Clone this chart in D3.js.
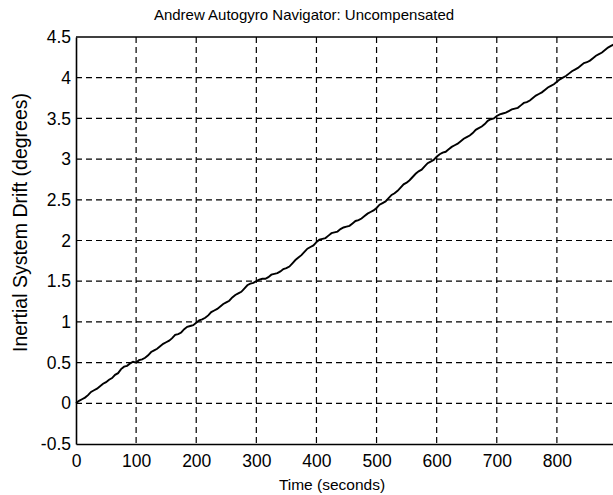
<!DOCTYPE html>
<html>
<head>
<meta charset="utf-8">
<script src="https://cdn.jsdelivr.net/npm/d3@7"></script>
<style>
  html, body { margin: 0; padding: 0; background: #fff; }
  svg { display: block; }
  text { font-family: "Liberation Sans", Arial, sans-serif; fill: #000; }
</style>
</head>
<body>
<script>
// Gyro drift record, one sample every 5 s from 0 to 900 s
const sampleStep = 5;
const driftDegrees = [
  0.00, 0.03, 0.05, 0.07, 0.10, 0.14, 0.16, 0.18, 0.21, 0.24,
  0.26, 0.29, 0.31, 0.35, 0.37, 0.42, 0.45, 0.46, 0.49, 0.51,
  0.50, 0.53, 0.54, 0.56, 0.59, 0.63, 0.65, 0.67, 0.70, 0.73,
  0.75, 0.77, 0.80, 0.84, 0.85, 0.87, 0.91, 0.94, 0.95, 0.96,
  0.99, 1.02, 1.03, 1.05, 1.08, 1.12, 1.14, 1.16, 1.19, 1.22,
  1.24, 1.26, 1.30, 1.33, 1.35, 1.37, 1.41, 1.45, 1.47, 1.48,
  1.50, 1.52, 1.53, 1.53, 1.55, 1.58, 1.59, 1.60, 1.62, 1.65,
  1.66, 1.68, 1.72, 1.76, 1.79, 1.82, 1.86, 1.90, 1.92, 1.94,
  1.98, 2.01, 2.02, 2.03, 2.06, 2.09, 2.10, 2.11, 2.14, 2.16,
  2.17, 2.18, 2.21, 2.24, 2.25, 2.27, 2.30, 2.33, 2.35, 2.37,
  2.40, 2.44, 2.46, 2.48, 2.52, 2.56, 2.58, 2.61, 2.65, 2.69,
  2.71, 2.74, 2.78, 2.82, 2.85, 2.87, 2.91, 2.95, 2.97, 2.99,
  3.03, 3.06, 3.08, 3.09, 3.12, 3.15, 3.17, 3.19, 3.22, 3.25,
  3.27, 3.29, 3.32, 3.36, 3.38, 3.40, 3.43, 3.47, 3.49, 3.50,
  3.53, 3.55, 3.56, 3.57, 3.59, 3.61, 3.62, 3.63, 3.66, 3.69,
  3.70, 3.72, 3.75, 3.78, 3.80, 3.82, 3.85, 3.88, 3.90, 3.92,
  3.95, 3.98, 4.00, 4.02, 4.05, 4.08, 4.10, 4.12, 4.15, 4.18,
  4.19, 4.21, 4.24, 4.27, 4.29, 4.31, 4.34, 4.37, 4.39, 4.41,
  4.44
];
const xTicks = [0, 100, 200, 300, 400, 500, 600, 700, 800];
const yTicks = [-0.5, 0, 0.5, 1, 1.5, 2, 2.5, 3, 3.5, 4, 4.5];
const xDomain = [0, 900];
const yDomain = [-0.5, 4.5];

const titleText = "Andrew Autogyro Navigator: Uncompensated";
const xLabelText = "Time (seconds)";
const yLabelText = "Inertial System Drift (degrees)";

const W = 613, H = 495;
const plot = { left: 76, right: 617, top: 37, bottom: 444 };

const svg = d3.select("body").append("svg")
  .attr("width", W).attr("height", H);

const x = d3.scaleLinear().domain(xDomain).range([plot.left, plot.right]);
const y = d3.scaleLinear().domain(yDomain).range([plot.bottom, plot.top]);

// dashed grid
const grid = svg.append("g").attr("stroke", "#000").attr("stroke-width", 1.2)
  .attr("stroke-dasharray", "6,4").attr("fill", "none");
grid.selectAll("line.v").data(xTicks.filter(d => d > xDomain[0])).join("line")
  .attr("class", "v")
  .attr("x1", d => x(d)).attr("x2", d => x(d))
  .attr("y1", plot.top).attr("y2", plot.bottom);
grid.selectAll("line.h").data(yTicks.filter(d => d > yDomain[0] && d < yDomain[1])).join("line")
  .attr("class", "h")
  .attr("x1", plot.left).attr("x2", plot.right)
  .attr("y1", d => y(d)).attr("y2", d => y(d));

// drift trace
const line = d3.line().x((d, i) => x(i * sampleStep)).y(d => y(d));
svg.append("path")
  .datum(driftDegrees)
  .attr("d", line)
  .attr("fill", "none")
  .attr("stroke", "#000")
  .attr("stroke-width", 1.9)
  .attr("stroke-linejoin", "miter");

// axes
const xAxis = d3.axisBottom(x).tickValues(xTicks).tickSize(0).tickPadding(11)
  .tickFormat(d3.format("d"));
const gx = svg.append("g").attr("transform", `translate(0,${plot.bottom})`).call(xAxis);
gx.select(".domain").attr("stroke", "#000").attr("stroke-width", 1.6);
gx.selectAll("text").attr("font-size", 17.5);

const yAxis = d3.axisLeft(y).tickValues(yTicks).tickSize(0).tickPadding(5)
  .tickFormat(d => String(d));
const gy = svg.append("g").attr("transform", `translate(${plot.left},0)`).call(yAxis);
gy.select(".domain").attr("stroke", "#000").attr("stroke-width", 1.6);
gy.selectAll("text").attr("font-size", 17.5);

// top frame edge
svg.append("line")
  .attr("x1", plot.left).attr("x2", plot.right)
  .attr("y1", plot.top).attr("y2", plot.top)
  .attr("stroke", "#000").attr("stroke-width", 1.6);

// titles
svg.append("text").attr("x", 304).attr("y", 20)
  .attr("text-anchor", "middle").attr("font-size", 15).text(titleText);
svg.append("text").attr("x", 332).attr("y", 490)
  .attr("text-anchor", "middle").attr("font-size", 15.5).text(xLabelText);
svg.append("text")
  .attr("transform", `translate(27,${(88 + 357) / 2}) rotate(-90)`)
  .attr("text-anchor", "middle").attr("font-size", 19.5).text(yLabelText);
</script>
</body>
</html>
